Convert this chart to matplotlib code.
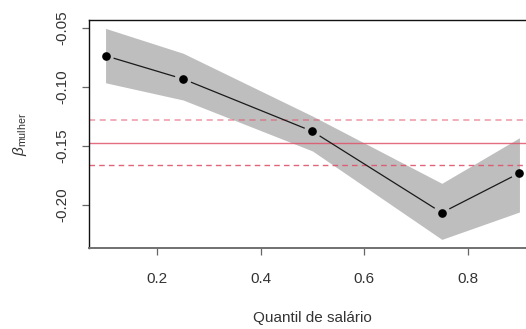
import numpy as np
import matplotlib
matplotlib.use("Agg")
import matplotlib.pyplot as plt

plt.rcParams['font.family'] = ['Liberation Sans', 'DejaVu Sans']
plt.rcParams['mathtext.fontset'] = 'custom'
plt.rcParams['mathtext.rm'] = 'Liberation Sans'
plt.rcParams['mathtext.it'] = 'Liberation Sans:italic'

# Quantile regression coefficient for "mulher" across wage quantiles
quantis = [0.10, 0.25, 0.50, 0.75, 0.90]
beta = [-0.0735, -0.0932, -0.1376, -0.2065, -0.1729]
ic_inf = [-0.0964, -0.1110, -0.1542, -0.2291, -0.2059]
ic_sup = [-0.0503, -0.0714, -0.1246, -0.1816, -0.1430]

# OLS estimate and its confidence interval
ols_beta = -0.1477
ols_inf = -0.1661
ols_sup = -0.1280

x_ticks = [0.2, 0.4, 0.6, 0.8]
y_ticks = [-0.20, -0.15, -0.10, -0.05]
y_ticklabels = ['-0.20', '-0.15', '-0.10', '-0.05']

W, H = 526, 329
fig = plt.figure(figsize=(W / 100, H / 100), dpi=100)
ax = fig.add_axes([89 / W, (H - 248) / H, (536 - 89) / W, (248 - 20) / H])

xr = max(quantis) - min(quantis)
ax.set_xlim(min(quantis) - 0.04 * xr, max(quantis) + 0.04 * xr)
ax.set_ylim(-0.2364, -0.0432)

ax.fill_between(quantis, ic_inf, ic_sup, color='#BEBEBE', linewidth=0, zorder=1)

ax.axhline(ols_sup, color='#DF536B', alpha=0.6, lw=1.1, ls=(0, (4, 3)), zorder=2)
ax.axhline(ols_beta, color='#DF536B', alpha=0.85, lw=1.0, zorder=2)
ax.axhline(ols_inf, color='#DF536B', alpha=0.9, lw=1.0, ls=(0, (4, 3)), zorder=2)

# Connecting segments with gaps around each point
fig.canvas.draw()
pts = ax.transData.transform(np.column_stack([quantis, beta]))
gap = 9.0
inv = ax.transData.inverted()
for p0, p1 in zip(pts[:-1], pts[1:]):
    d = p1 - p0
    n = np.hypot(*d)
    u = d / n
    a = inv.transform(p0 + u * gap)
    b = inv.transform(p1 - u * gap)
    ax.plot([a[0], b[0]], [a[1], b[1]], color='#1a1a1a', lw=0.9, zorder=3)

ax.plot(quantis, beta, 'o', color='black', markersize=5.2, zorder=4)

ax.set_xticks(x_ticks)
ax.set_xticklabels([f'{v:.1f}' for v in x_ticks])
ax.set_yticks(y_ticks)
ax.set_yticklabels(y_ticklabels, rotation=90, va='center')

ax.tick_params(axis='both', direction='out', length=5, width=0.9,
               color='#666666', labelsize=11, labelcolor='#333333')
ax.tick_params(axis='x', pad=12)
ax.tick_params(axis='y', pad=9)

for side in ['left', 'top', 'right']:
    ax.spines[side].set_color('#111111')
    ax.spines[side].set_linewidth(1.0)
ax.spines['bottom'].set_color('#707070')
ax.spines['bottom'].set_linewidth(1.4)

fig.text(312 / W, 1 - 318 / H, 'Quantil de salário', ha='center', va='center',
         fontsize=11, color='#333333')
fig.text(20 / W, 1 - 134 / H, r'$\beta_{\mathrm{mulher}}$', ha='center', va='center',
         rotation=90, fontsize=11, color='#333333')

fig.savefig('out.png', dpi=100)
